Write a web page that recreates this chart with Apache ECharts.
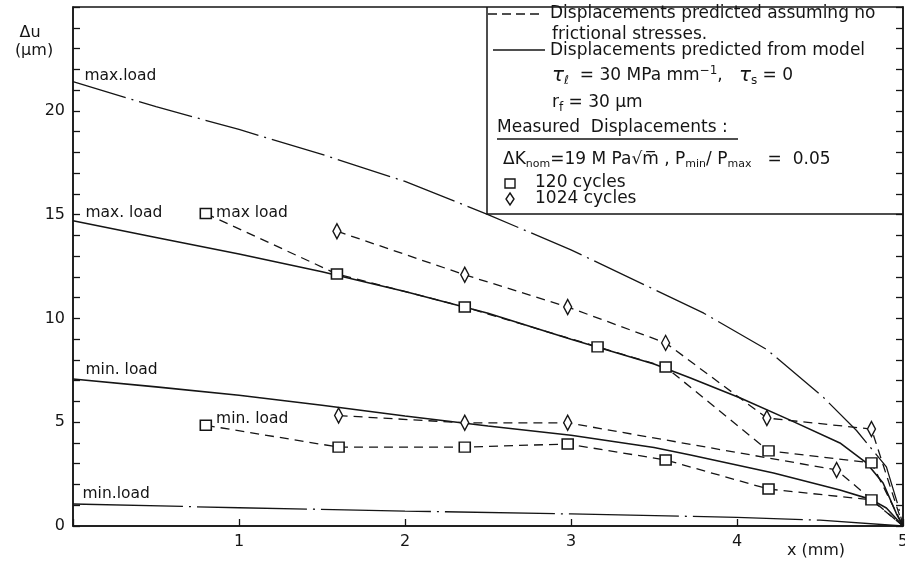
<!DOCTYPE html>
<html><head><meta charset="utf-8">
<script src="https://cdn.jsdelivr.net/npm/echarts@6/dist/echarts.min.js"></script>
<style>html,body{margin:0;padding:0;background:#fff;overflow:hidden}#c{width:905px;height:561px}</style>
</head><body><div id="c"></div>
<script>
// ---------- data ----------
const xTickLabels = ['', '1', '2', '3', '4', '5'];
const yTickLabels = ['0', '5', '10', '15', '20', ''];

// dash-dot: displacements predicted assuming no frictional stresses
const noFricMaxX = [0, 0.5, 1, 1.5, 2, 2.5, 3, 3.5, 3.8, 4.18, 4.52, 4.72, 4.9, 4.97, 5];
const noFricMaxY = [21.4, 20.2, 19.1, 17.9, 16.6, 15.0, 13.3, 11.4, 10.25, 8.5, 6.2, 4.6, 2.85, 1.0, 0];
const noFricMinX = [0, 1, 2, 3, 4, 4.5, 5];
const noFricMinY = [1.06, 0.88, 0.72, 0.58, 0.42, 0.28, 0];

// solid: displacements predicted from model
const modelMaxX = [0, 0.5, 1, 1.5, 2, 2.5, 3, 3.5, 3.72, 4.02, 4.32, 4.62, 4.78, 4.88, 4.96, 5];
const modelMaxY = [14.7, 13.9, 13.1, 12.25, 11.3, 10.25, 9.0, 7.8, 7.13, 6.17, 5.1, 4.0, 3.04, 2.07, 0.6, 0];
const modelMinX = [0, 0.5, 1, 1.5, 2, 2.5, 3, 3.5, 3.72, 4.22, 4.62, 4.81, 4.9, 5];
const modelMinY = [7.08, 6.7, 6.3, 5.82, 5.3, 4.82, 4.37, 3.78, 3.42, 2.55, 1.73, 1.27, 0.87, 0];

// measured: 120 cycles (squares)
const c120MaxX = [0.8, 1.59, 2.36, 3.16, 3.57, 4.19, 4.81, 5];
const c120MaxY = [15.05, 12.14, 10.55, 8.63, 7.66, 3.62, 3.04, 0];
const c120MinX = [0.8, 1.6, 2.36, 2.98, 3.57, 4.19, 4.81, 5];
const c120MinY = [4.85, 3.8, 3.8, 3.95, 3.18, 1.78, 1.26, 0];

// measured: 1024 cycles (diamonds)
const c1024MaxX = [1.59, 2.36, 2.98, 3.57, 4.18, 4.81, 5];
const c1024MaxY = [14.2, 12.1, 10.55, 8.82, 5.2, 4.67, 0];
const c1024MinX = [1.6, 2.36, 2.98, 4.6, 5];
const c1024MinY = [5.32, 4.97, 4.97, 2.7, 0];

// ---------- chart ----------
const FONT = 'DejaVu Sans';
const INK = '#151515';
const chart = echarts.init(document.getElementById('c'), null, {renderer: 'canvas'});

function pairs(xs, ys) { return xs.map((x, i) => [x, ys[i]]); }

function curveLabel(data, text, distance, dy) {
  data[0] = {
    value: data[0], symbol: 'circle', symbolSize: 1,
    itemStyle: {color: 'rgba(0,0,0,0)', borderWidth: 0},
    label: {show: true, formatter: text, position: 'right', distance: distance, offset: [0, dy],
            color: INK, fontFamily: FONT, fontSize: 15.5}
  };
  return data;
}
function measured(data, text, distance, dy) {
  const n = data.length - 1;
  data[n] = {value: data[n], symbol: 'none'};
  if (text) {
    data[0] = {value: data[0], label: {show: true, formatter: text, position: 'right', distance: distance,
               offset: [0, dy], color: INK, fontFamily: FONT, fontSize: 15.5}};
  }
  return data;
}

const dashDotMax = [55, 6, 2, 6];
const dashDotMin = [110, 6, 2, 6];
const dashed = [9, 6];

function curve(data, type, width) {
  return {type: 'line', data: data, symbol: 'none', smooth: false,
          lineStyle: {color: INK, width: width, type: type}, itemStyle: {color: INK}, z: 2, silent: true};
}
function meas(data, sym, size) {
  return {type: 'line', data: data, symbol: sym, symbolSize: size, showSymbol: true,
          lineStyle: {color: INK, width: 1.3, type: dashed},
          itemStyle: {color: '#fff', borderColor: INK, borderWidth: 1.5}, z: 3, silent: true};
}

const diamondPath = 'path://M5,0 L10,10 L5,20 L0,10 Z';
const T = '17px "DejaVu Sans"';

const option = {
  animation: false,
  backgroundColor: '#fff',
  grid: {left: 73, right: 2, top: 7, bottom: 35, show: true, borderColor: INK, borderWidth: 1.5,
         backgroundColor: 'transparent', containLabel: false, outerBoundsMode: 'none'},
  xAxis: {
    type: 'value', min: 0, max: 5, interval: 1,
    axisLine: {lineStyle: {color: INK, width: 1.5}},
    axisTick: {inside: true, length: 7, lineStyle: {color: INK, width: 1.3}},
    splitLine: {show: false},
    axisLabel: {formatter: v => xTickLabels[Math.round(v)], margin: 8, fontSize: 16, fontFamily: FONT, color: INK}
  },
  yAxis: [
    {
      type: 'value', min: 0, max: 25, interval: 5, position: 'left',
      axisLine: {show: true, lineStyle: {color: INK, width: 1.5}},
      axisTick: {inside: true, length: 7, lineStyle: {color: INK, width: 1.3}},
      minorTick: {show: true, splitNumber: 5, length: 7, lineStyle: {color: INK, width: 1.3}},
      splitLine: {show: false},
      axisLabel: {formatter: v => yTickLabels[Math.round(v / 5)], margin: 8, fontSize: 16, fontFamily: FONT, color: INK}
    },
    {
      type: 'value', min: 0, max: 25, interval: 1, position: 'right',
      axisLine: {show: true, lineStyle: {color: INK, width: 1.5}},
      axisTick: {inside: true, length: 7, lineStyle: {color: INK, width: 1.3}},
      splitLine: {show: false},
      axisLabel: {show: false}
    }
  ],
  series: [
    curve(curveLabel(pairs(noFricMaxX, noFricMaxY), 'max.load', 11, -6), dashDotMax, 1.3),
    curve(curveLabel(pairs(noFricMinX, noFricMinY), 'min.load', 9, -10), dashDotMin, 1.3),
    curve(curveLabel(pairs(modelMaxX, modelMaxY), 'max. load', 12, -8), 'solid', 1.6),
    curve(curveLabel(pairs(modelMinX, modelMinY), 'min. load', 12, -9), 'solid', 1.6),
    meas(measured(pairs(c120MaxX, c120MaxY), 'max load', 4, -1), 'rect', [11, 10]),
    meas(measured(pairs(c120MinX, c120MinY), 'min. load', 4, -6), 'rect', [11, 10]),
    meas(measured(pairs(c1024MaxX, c1024MaxY)), diamondPath, [8, 15]),
    meas(measured(pairs(c1024MinX, c1024MinY)), diamondPath, [8, 15])
  ],
  graphic: [
    // axis titles
    {type: 'text', style: {x: 30, y: 33, text: 'Δu', font: '16px "DejaVu Sans"', fill: INK, align: 'center', verticalAlign: 'middle'}},
    {type: 'text', style: {x: 34, y: 51, text: '(μm)', font: '16px "DejaVu Sans"', fill: INK, align: 'center', verticalAlign: 'middle'}},
    {type: 'text', style: {x: 816, y: 551, text: 'x (mm)', font: '16px "DejaVu Sans"', fill: INK, align: 'center', verticalAlign: 'middle'}},
    // legend box
    {type: 'polyline', shape: {points: [[487, 7], [487, 214], [903, 214]]}, style: {stroke: INK, lineWidth: 1.5, fill: null}, z: 10},
    {type: 'line', shape: {x1: 488, y1: 14, x2: 543, y2: 14}, style: {stroke: INK, lineWidth: 1.3, lineDash: [9, 5]}, z: 10},
    {type: 'text', style: {x: 550, y: 14, text: 'Displacements predicted assuming no', font: T, fill: INK, verticalAlign: 'middle'}, z: 10},
    {type: 'text', style: {x: 552, y: 35, text: 'frictional stresses.', font: T, fill: INK, verticalAlign: 'middle'}, z: 10},
    {type: 'line', shape: {x1: 493, y1: 50, x2: 545, y2: 50}, style: {stroke: INK, lineWidth: 1.5}, z: 10},
    {type: 'text', style: {x: 550, y: 51, text: 'Displacements predicted from model', font: T, fill: INK, verticalAlign: 'middle'}, z: 10},
    {type: 'text', style: {x: 552, y: 76, verticalAlign: 'middle', fill: INK, font: T,
      text: '{big|τ}{sub|ℓ}  = 30 MPa mm{sup|−1},   {big|τ}{sub|s} = 0',
      rich: {big: {fontSize: 20, fontStyle: 'italic', fontFamily: FONT, fill: INK}, sub: {fontSize: 12, fontFamily: FONT, verticalAlign: 'bottom', padding: [10, 0, 0, 0], fill: INK},
             sup: {fontSize: 12, fontFamily: FONT, verticalAlign: 'top', padding: [0, 0, 9, 0], fill: INK}}}, z: 10},
    {type: 'text', style: {x: 552, y: 103, verticalAlign: 'middle', fill: INK, font: T,
      text: 'r{sub|f} = 30 μm',
      rich: {sub: {fontSize: 12, fontFamily: FONT, verticalAlign: 'bottom', padding: [10, 0, 0, 0], fill: INK}}}, z: 10},
    {type: 'text', style: {x: 497, y: 128, text: 'Measured  Displacements :', font: T, fill: INK, verticalAlign: 'middle'}, z: 10},
    {type: 'line', shape: {x1: 497, y1: 139, x2: 738, y2: 139}, style: {stroke: INK, lineWidth: 1.3}, z: 10},
    {type: 'text', style: {x: 503, y: 160, verticalAlign: 'middle', fill: INK, font: T,
      text: 'ΔK{sub|nom}=19 M Pa√m̅ , P{sub|min}/ P{sub|max}   =  0.05',
      rich: {sub: {fontSize: 11, fontFamily: FONT, verticalAlign: 'bottom', padding: [8, 0, 0, 0], fill: INK}}}, z: 10},
    {type: 'rect', shape: {x: 505, y: 179, width: 10, height: 9}, style: {stroke: INK, lineWidth: 1.4, fill: '#fff'}, z: 10},
    {type: 'text', style: {x: 535, y: 183, text: '120 cycles', font: T, fill: INK, verticalAlign: 'middle'}, z: 10},
    {type: 'polygon', shape: {points: [[510, 193], [514, 199], [510, 205], [506, 199]]}, style: {stroke: INK, lineWidth: 1.4, fill: '#fff'}, z: 10},
    {type: 'text', style: {x: 535, y: 199, text: '1024 cycles', font: T, fill: INK, verticalAlign: 'middle'}, z: 10}
  ]
};
chart.setOption(option);
</script>
</body></html>
